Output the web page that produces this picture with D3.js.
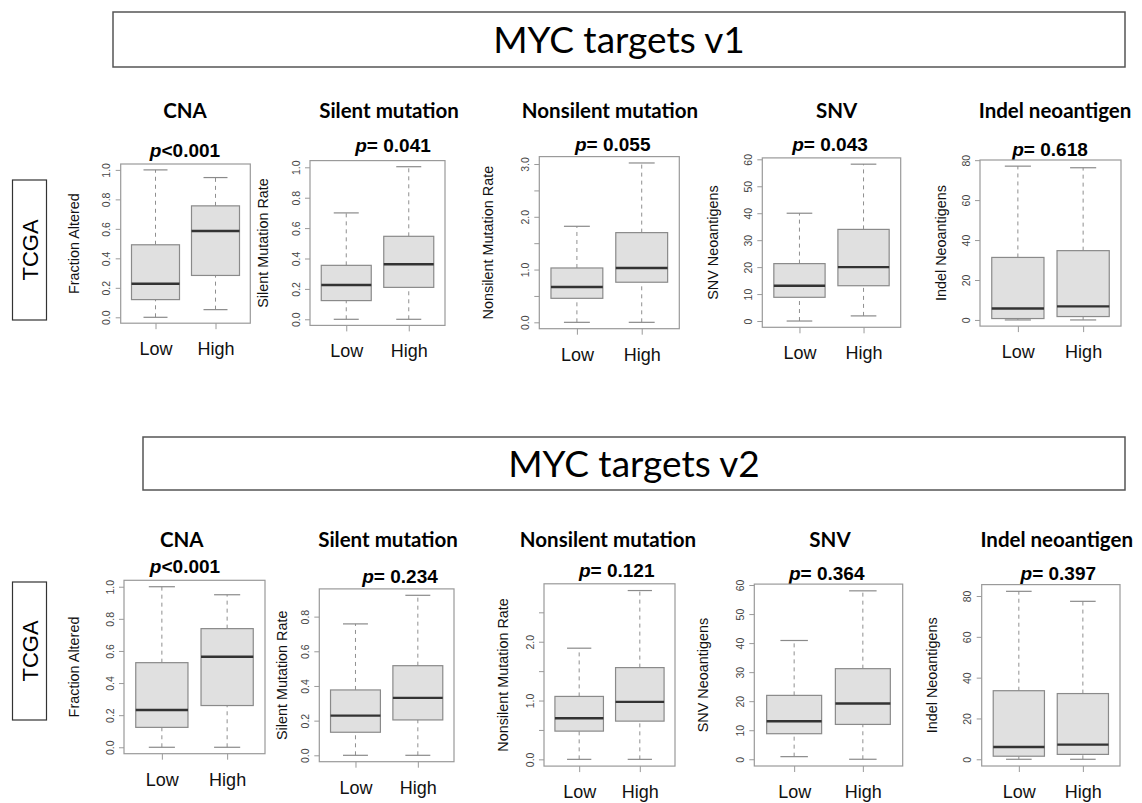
<!DOCTYPE html>
<html>
<head>
<meta charset="utf-8">
<script src="https://cdn.jsdelivr.net/npm/d3@7"></script>
<style>
  body { margin: 0; background: #fff; }
  svg { display: block; }
</style>
</head>
<body>
<svg id="chart" width="1142" height="803"></svg>
<script>
// ---- data ----
const groups = ["Low", "High"];
const metrics = ["CNA", "Silent mutation", "Nonsilent mutation", "SNV", "Indel neoantigen"];
const yTitles = ["Fraction Altered", "Silent Mutation Rate", "Nonsilent Mutation Rate", "SNV Neoantigens", "Indel Neoantigens"];
const signatures = ["MYC targets v1", "MYC targets v2"];
const cohort = "TCGA";
const pV1 = ["<0.001", "= 0.041", "= 0.055", "= 0.043", "= 0.618"];
const pV2 = ["<0.001", "= 0.234", "= 0.121", "= 0.364", "= 0.397"];

// five-number summaries per group: [lower whisker, Q1, median, Q3, upper whisker]
const v1CNA       = [[0, 0.12, 0.228, 0.492, 1.0],  [0.052, 0.284, 0.585, 0.756, 0.948]];
const v1Silent    = [[0, 0.123, 0.226, 0.355, 0.70], [0, 0.21, 0.362, 0.546, 1.004]];
const v1Nonsilent = [[0, 0.455, 0.67, 1.03, 1.82],  [0, 0.76, 1.03, 1.70, 3.02]];
const v1SNV       = [[0, 8.8, 13.1, 21.3, 40.0],    [1.9, 13.1, 20.0, 34.0, 58.2]];
const v1Indel     = [[0, 0.7, 5.7, 31.3, 77.0],     [0, 1.7, 6.8, 34.7, 76.2]];
const v2CNA       = [[0, 0.124, 0.232, 0.527, 1.0], [0, 0.26, 0.564, 0.739, 0.95]];
const v2Silent    = [[0, 0.133, 0.229, 0.377, 0.758], [0, 0.204, 0.331, 0.517, 0.923]];
const v2Nonsilent = [[0, 0.48, 0.70, 1.07, 1.89],   [0, 0.65, 0.977, 1.56, 2.87]];
const v2SNV       = [[0.9, 8.8, 13.1, 22.0, 40.9],  [0, 12.0, 19.2, 31.2, 58.0]];
const v2Indel     = [[0, 1.5, 6.0, 33.6, 82.3],     [0, 2.4, 7.2, 32.2, 77.4]];

// y-axis ticks and the subset that carries a label
const ticksV1  = [[0, 0.2, 0.4, 0.6, 0.8, 1.0], [0, 0.2, 0.4, 0.6, 0.8, 1.0], [0, 0.5, 1, 1.5, 2, 2.5, 3], [0, 10, 20, 30, 40, 50, 60], [0, 20, 40, 60, 80]];
const labelsV1 = [[0, 0.2, 0.4, 0.6, 0.8, 1.0], [0, 0.2, 0.4, 0.6, 0.8, 1.0], [0, 1, 2, 3], [0, 10, 20, 30, 40, 50, 60], [0, 20, 40, 60, 80]];
const ticksV2  = [[0, 0.2, 0.4, 0.6, 0.8, 1.0], [0, 0.2, 0.4, 0.6, 0.8], [0, 0.5, 1, 1.5, 2, 2.5], [0, 10, 20, 30, 40, 50, 60], [0, 20, 40, 60, 80]];
const labelsV2 = [[0, 0.2, 0.4, 0.6, 0.8, 1.0], [0, 0.2, 0.4, 0.6, 0.8], [0, 1, 2], [0, 10, 20, 30, 40, 50, 60], [0, 20, 40, 60, 80]];
const tickFormats = [".1f", ".1f", ".1f", "d", "d"];

// ---- layout ----
// frame: [left, top, right, bottom]; title/p: [x, baseline]; ylabX: centre of rotated axis title
const layoutV1 = [
  { frame: [120.7, 164.0, 250.3, 323.2], title: [185, 117.5],   p: [185, 157],    ylabX: 74 },
  { frame: [310.0, 160.6, 445.0, 325.4], title: [389, 117.5],   p: [393, 151.5],  ylabX: 263 },
  { frame: [539.3, 156.6, 679.3, 328.7], title: [610, 117.5],   p: [612.7, 151],  ylabX: 488 },
  { frame: [762.3, 157.9, 900.7, 327.3], title: [836.7, 117.5], p: [830, 151],    ylabX: 713 },
  { frame: [980.0, 160.0, 1121.0, 326.1], title: [1055, 117.5], p: [1050, 156],   ylabX: 940.7 }
];
const layoutV2 = [
  { frame: [124.0, 580.3, 265.0, 753.7], title: [181.7, 547.3], p: [185, 572.5],    ylabX: 74 },
  { frame: [319.3, 588.9, 454.0, 761.7], title: [388, 547.3],   p: [400, 583],      ylabX: 281.7 },
  { frame: [544.0, 583.8, 675.0, 766.1], title: [608, 547.3],   p: [616.7, 576.5],  ylabX: 503.3 },
  { frame: [754.3, 584.1, 902.7, 766.0], title: [830, 547.3],   p: [826.7, 580],    ylabX: 703.3 },
  { frame: [981.7, 584.6, 1120.0, 766.0], title: [1056.7, 547.3], p: [1058.3, 580], ylabX: 931.7 }
];
const headerBoxes = [[113, 12, 1125, 67], [143, 437, 1125, 490]];
const cohortBoxes = [[12.5, 180, 46.5, 320], [12.5, 582, 46.5, 720]];

const SANS = "'Liberation Sans', Arial, Helvetica, sans-serif";
const HUMANIST = "Lato, 'Open Sans', sans-serif";
const FRAME = "#9a9a9a";

const svg = d3.select("#chart");

// ---- signature header boxes ----
signatures.forEach((name, i) => {
  const [x0, y0, x1, y1] = headerBoxes[i];
  svg.append("rect")
    .attr("x", x0).attr("y", y0).attr("width", x1 - x0).attr("height", y1 - y0)
    .attr("fill", "#fff").attr("stroke", "#555").attr("stroke-width", 1.5);
  svg.append("text")
    .attr("x", (x0 + x1) / 2).attr("y", (y0 + y1) / 2 + 13)
    .attr("text-anchor", "middle")
    .attr("font-family", HUMANIST).attr("font-size", 37)
    .attr("fill", "#000")
    .text(name);
});

// ---- cohort label boxes ----
cohortBoxes.forEach(([x0, y0, x1, y1]) => {
  svg.append("rect")
    .attr("x", x0).attr("y", y0).attr("width", x1 - x0).attr("height", y1 - y0)
    .attr("fill", "#fff").attr("stroke", "#333").attr("stroke-width", 1.2);
  const cx = (x0 + x1) / 2, cy = (y0 + y1) / 2;
  svg.append("text")
    .attr("transform", `translate(${cx + 8},${cy}) rotate(-90)`)
    .attr("text-anchor", "middle")
    .attr("font-family", SANS).attr("font-size", 22)
    .text(cohort);
});

// ---- one R-style boxplot panel ----
function drawPanel(stats, lay, metric, yTitle, pText, ticks, labels, fmt) {
  const [x0, y0, x1, y1] = lay.frame;
  const lo = d3.min(stats, s => s[0]);
  const hi = d3.max(stats, s => s[4]);
  const pad = 0.04 * (hi - lo);

  const x = d3.scaleLinear().domain([0.42, 2.58]).range([x0, x1]);
  const y = d3.scaleLinear().domain([lo - pad, hi + pad]).range([y1, y0]);

  const g = svg.append("g");

  // titles
  g.append("text")
    .attr("x", lay.title[0]).attr("y", lay.title[1])
    .attr("text-anchor", "middle")
    .attr("font-family", HUMANIST).attr("font-weight", 700).attr("font-size", 20.5)
    .text(metric);

  const pt = g.append("text")
    .attr("x", lay.p[0]).attr("y", lay.p[1])
    .attr("text-anchor", "middle")
    .attr("font-family", SANS).attr("font-weight", 700).attr("font-size", 19);
  pt.append("tspan").attr("font-style", "italic").text("p");
  pt.append("tspan").text(pText);

  // y axis
  const fmtFn = d3.format(fmt);
  const yAxis = g.append("g")
    .attr("transform", `translate(${x0},0)`)
    .call(d3.axisLeft(y).tickValues(ticks).tickSize(5)
      .tickFormat(d => labels.some(l => Math.abs(l - d) < 1e-9) ? fmtFn(d) : ""));
  yAxis.select(".domain").remove();
  yAxis.selectAll(".tick line").attr("stroke", FRAME);
  yAxis.selectAll(".tick text")
    .attr("transform", "rotate(-90)")
    .attr("x", 0).attr("y", -10.5).attr("dy", 0)
    .attr("text-anchor", "middle")
    .attr("font-family", SANS).attr("font-size", 10.5).attr("fill", "#444");

  // y axis title
  g.append("text")
    .attr("transform", `translate(${lay.ylabX + 5},${(y0 + y1) / 2}) rotate(-90)`)
    .attr("text-anchor", "middle")
    .attr("font-family", SANS).attr("font-size", 14.4).attr("fill", "#111")
    .text(yTitle);

  // x axis
  const xAxis = g.append("g")
    .attr("transform", `translate(0,${y1})`)
    .call(d3.axisBottom(x).tickValues([1, 2]).tickSize(6).tickFormat((d, i) => groups[i]));
  xAxis.select(".domain").remove();
  xAxis.selectAll(".tick line").attr("stroke", FRAME);
  xAxis.selectAll(".tick text")
    .attr("y", 32).attr("dy", 0)
    .attr("font-family", SANS).attr("font-size", 18).attr("fill", "#111");

  // frame
  g.append("rect")
    .attr("x", x0).attr("y", y0).attr("width", x1 - x0).attr("height", y1 - y0)
    .attr("fill", "none").attr("stroke", FRAME).attr("stroke-width", 1.2);

  // boxes
  const box = g.selectAll(".bx").data(stats).join("g").attr("class", "bx");
  box.append("line")  // whiskers
    .attr("x1", (d, i) => x(i + 1)).attr("x2", (d, i) => x(i + 1))
    .attr("y1", d => y(d[0])).attr("y2", d => y(d[1]))
    .attr("stroke", "#8f8f8f").attr("stroke-dasharray", "4,4");
  box.append("line")
    .attr("x1", (d, i) => x(i + 1)).attr("x2", (d, i) => x(i + 1))
    .attr("y1", d => y(d[3])).attr("y2", d => y(d[4]))
    .attr("stroke", "#8f8f8f").attr("stroke-dasharray", "4,4");
  box.append("line")  // caps
    .attr("x1", (d, i) => x(i + 0.8)).attr("x2", (d, i) => x(i + 1.2))
    .attr("y1", d => y(d[0])).attr("y2", d => y(d[0]))
    .attr("stroke", "#8a8a8a").attr("stroke-width", 1.2);
  box.append("line")
    .attr("x1", (d, i) => x(i + 0.8)).attr("x2", (d, i) => x(i + 1.2))
    .attr("y1", d => y(d[4])).attr("y2", d => y(d[4]))
    .attr("stroke", "#8a8a8a").attr("stroke-width", 1.2);
  box.append("rect")
    .attr("x", (d, i) => x(i + 0.6)).attr("width", (d, i) => x(i + 1.4) - x(i + 0.6))
    .attr("y", d => y(d[3])).attr("height", d => y(d[1]) - y(d[3]))
    .attr("fill", "#e0e0e0").attr("stroke", "#8a8a8a").attr("stroke-width", 1.2);
  box.append("line")  // medians
    .attr("x1", (d, i) => x(i + 0.6)).attr("x2", (d, i) => x(i + 1.4))
    .attr("y1", d => y(d[2])).attr("y2", d => y(d[2]))
    .attr("stroke", "#333").attr("stroke-width", 2.4);
}

const statsV1 = [v1CNA, v1Silent, v1Nonsilent, v1SNV, v1Indel];
const statsV2 = [v2CNA, v2Silent, v2Nonsilent, v2SNV, v2Indel];

metrics.forEach((m, i) => {
  drawPanel(statsV1[i], layoutV1[i], m, yTitles[i], pV1[i], ticksV1[i], labelsV1[i], tickFormats[i]);
  drawPanel(statsV2[i], layoutV2[i], m, yTitles[i], pV2[i], ticksV2[i], labelsV2[i], tickFormats[i]);
});
</script>
</body>
</html>
